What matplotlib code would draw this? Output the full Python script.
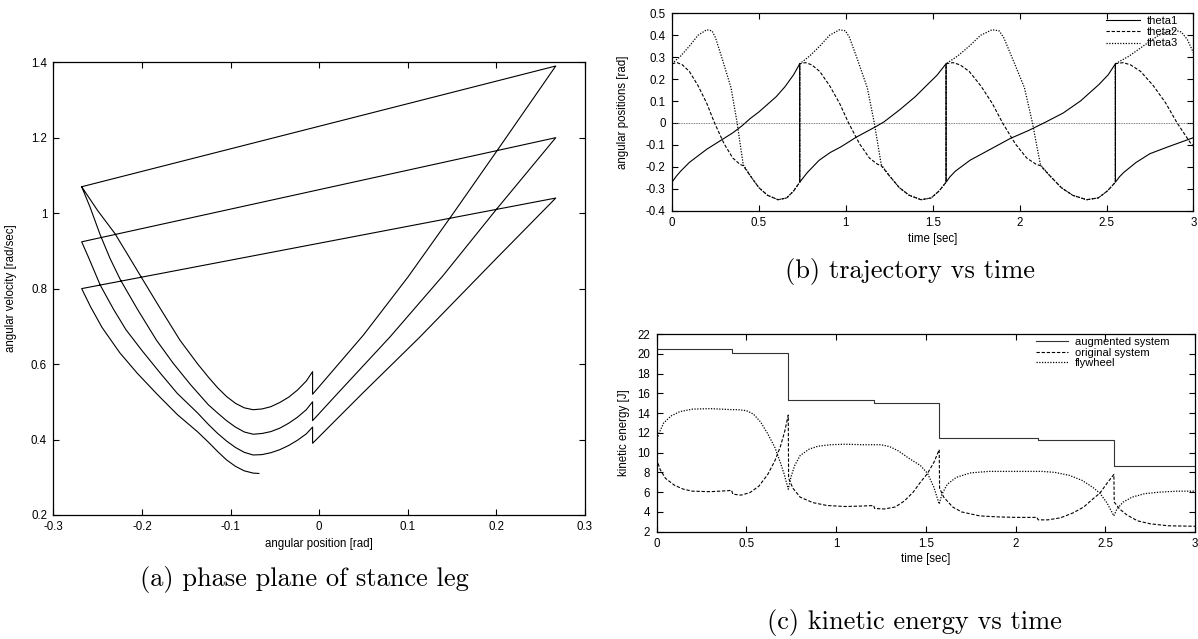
import numpy as np
import matplotlib
matplotlib.use("Agg")
import matplotlib.pyplot as plt

# ---------------- datos ----------------
# (a) plano de fase de la pierna de apoyo: posicion angular vs velocidad angular
phase_theta = [
    # ciclo 1
    -0.268, -0.250, -0.2305, -0.215, -0.2004, -0.180, -0.157, -0.137, -0.1245, -0.1145, -0.1045, -0.0945, -0.0845,
    -0.0745, -0.0645, -0.0545, -0.0445, -0.0345, -0.0245, -0.0145, -0.0074, -0.0074, 0.02, 0.05, 0.10, 0.15, 0.20, 0.267,
    # ciclo 2
    -0.268, -0.2587, -0.247, -0.236, -0.224, -0.205, -0.1835, -0.165, -0.145, -0.125, -0.1145, -0.1045, -0.0945,
    -0.0845, -0.0745, -0.0645, -0.0545, -0.0445, -0.0345, -0.0245, -0.0145, -0.0074, -0.0074, 0.02, 0.08, 0.14, 0.20, 0.267,
    # ciclo 3
    -0.268, -0.2605, -0.247, -0.232, -0.218, -0.200, -0.180, -0.160, -0.137, -0.125, -0.1145, -0.1045, -0.0945,
    -0.0845, -0.0745, -0.0645, -0.0545, -0.0445, -0.0345, -0.0245, -0.0145, -0.0074, -0.0074, 0.05, 0.1134, 0.20, 0.267,
    # ciclo 4 (incompleto)
    -0.268, -0.258, -0.245, -0.225, -0.205, -0.182, -0.160, -0.137, -0.125, -0.1145, -0.1045, -0.0945, -0.0845,
    -0.0745, -0.068,
]
phase_omega = [
    1.070, 1.007, 0.946, 0.886, 0.829, 0.750, 0.663, 0.600, 0.564, 0.537, 0.514, 0.496, 0.484,
    0.479, 0.481, 0.487, 0.498, 0.512, 0.531, 0.555, 0.580, 0.520, 0.595, 0.677, 0.830, 0.995, 1.163, 1.390,
    1.070, 1.017, 0.942, 0.880, 0.822, 0.745, 0.663, 0.603, 0.545, 0.492, 0.470, 0.450, 0.433,
    0.420, 0.414, 0.416, 0.421, 0.430, 0.443, 0.459, 0.479, 0.500, 0.450, 0.520, 0.672, 0.835, 1.010, 1.200,
    0.924, 0.884, 0.809, 0.745, 0.691, 0.636, 0.578, 0.522, 0.470, 0.440, 0.416, 0.396, 0.379,
    0.366, 0.359, 0.360, 0.365, 0.373, 0.384, 0.398, 0.415, 0.433, 0.390, 0.525, 0.671, 0.880, 1.040,
    0.800, 0.752, 0.697, 0.630, 0.575, 0.518, 0.466, 0.420, 0.393, 0.368, 0.346, 0.329, 0.317,
    0.311, 0.310,
]

# (b) trayectorias en el tiempo
theta1_t = [0, 0.025, 0.05, 0.10, 0.15, 0.20, 0.25, 0.30, 0.35, 0.40, 0.45, 0.50, 0.55, 0.60, 0.65, 0.70, 0.735,
            0.735, 0.76, 0.78, 0.847, 0.91, 0.974, 1.06, 1.17, 1.22, 1.31, 1.40, 1.47, 1.524, 1.577,
            1.577, 1.60, 1.63, 1.715, 1.82, 1.948, 2.05, 2.14, 2.25, 2.35, 2.456, 2.51, 2.551,
            2.551, 2.575, 2.60, 2.67, 2.75, 2.85, 2.93, 3.0]
theta1 = [-0.27, -0.243, -0.22, -0.18, -0.15, -0.12, -0.095, -0.07, -0.045, -0.015, 0.02, 0.05, 0.085, 0.12, 0.165, 0.22, 0.27,
          -0.27, -0.245, -0.225, -0.17, -0.135, -0.108, -0.065, -0.018, 0.005, 0.06, 0.12, 0.175, 0.217, 0.27,
          -0.27, -0.245, -0.22, -0.17, -0.125, -0.07, -0.035, 0.0, 0.045, 0.10, 0.175, 0.22, 0.27,
          -0.27, -0.245, -0.225, -0.18, -0.14, -0.11, -0.087, -0.067]

theta2_t = [0, 0.03, 0.06, 0.10, 0.15, 0.20, 0.245, 0.30, 0.35, 0.39, 0.41, 0.45, 0.50, 0.55, 0.61, 0.66, 0.70, 0.735,
            0.735, 0.769, 0.804, 0.85, 0.907, 0.964, 1.016, 1.079, 1.136, 1.182, 1.204, 1.25, 1.308, 1.365, 1.433, 1.491, 1.537, 1.577,
            1.577, 1.617, 1.657, 1.71, 1.776, 1.842, 1.902, 1.975, 2.041, 2.094, 2.12, 2.173, 2.24, 2.306, 2.385, 2.452, 2.505, 2.551,
            2.551, 2.595, 2.638, 2.696, 2.769, 2.841, 2.906, 2.986, 3.0]
theta2 = [0.27, 0.275, 0.265, 0.235, 0.17, 0.09, 0.0, -0.095, -0.16, -0.188, -0.195, -0.24, -0.295, -0.33, -0.35, -0.342, -0.31, -0.27,
          0.27, 0.275, 0.265, 0.235, 0.17, 0.09, 0.0, -0.095, -0.16, -0.188, -0.195, -0.24, -0.295, -0.33, -0.35, -0.342, -0.31, -0.27,
          0.27, 0.275, 0.265, 0.235, 0.17, 0.09, 0.0, -0.095, -0.16, -0.188, -0.195, -0.24, -0.295, -0.33, -0.35, -0.342, -0.31, -0.27,
          0.27, 0.275, 0.265, 0.235, 0.17, 0.09, 0.0, -0.095, -0.105]

theta3_t = [0, 0.05, 0.10, 0.15, 0.20, 0.23, 0.25, 0.29, 0.34, 0.375, 0.395, 0.41, 0.45, 0.50, 0.55, 0.61, 0.66, 0.70, 0.735,
            0.735, 0.792, 0.85, 0.907, 0.964, 0.998, 1.021, 1.067, 1.124, 1.164, 1.187, 1.204, 1.25, 1.308, 1.365, 1.433, 1.491, 1.537, 1.577,
            1.577, 1.643, 1.71, 1.776, 1.842, 1.882, 1.908, 1.961, 2.028, 2.074, 2.10, 2.12, 2.173, 2.24, 2.306, 2.385, 2.452, 2.505, 2.551,
            2.551, 2.63, 2.71, 2.80, 2.88, 2.93, 2.965, 3.0]
theta3 = [0.27, 0.305, 0.35, 0.40, 0.425, 0.42, 0.39, 0.29, 0.16, 0.0, -0.11, -0.19, -0.24, -0.295, -0.33, -0.35, -0.342, -0.31, -0.27,
          0.27, 0.305, 0.35, 0.40, 0.425, 0.42, 0.39, 0.29, 0.16, 0.0, -0.11, -0.19, -0.24, -0.295, -0.33, -0.35, -0.342, -0.31, -0.27,
          0.27, 0.305, 0.35, 0.40, 0.425, 0.42, 0.39, 0.29, 0.16, 0.0, -0.11, -0.19, -0.24, -0.295, -0.33, -0.35, -0.342, -0.31, -0.27,
          0.27, 0.305, 0.35, 0.40, 0.425, 0.415, 0.38, 0.32]

# (c) energia cinetica en el tiempo
aug_t = [0, 0.418, 0.418, 0.734, 0.734, 1.212, 1.212, 1.575, 1.575, 2.126, 2.126, 2.548, 2.548, 3.0]
aug_e = [20.45, 20.45, 20.1, 20.1, 15.3, 15.3, 15.05, 15.05, 11.5, 11.5, 11.3, 11.3, 8.65, 8.65]

orig_t = [0, 0.02, 0.05, 0.10, 0.15, 0.20, 0.30, 0.40, 0.418, 0.425, 0.47, 0.52, 0.57, 0.62, 0.66, 0.69, 0.715, 0.734,
          0.736, 0.76, 0.80, 0.87, 0.95, 1.05, 1.15, 1.21, 1.215, 1.27, 1.33, 1.38, 1.43, 1.47, 1.51, 1.545, 1.575,
          1.577, 1.60, 1.65, 1.70, 1.80, 1.90, 2.00, 2.12, 2.126, 2.18, 2.25, 2.32, 2.38, 2.43, 2.47, 2.51, 2.548,
          2.55, 2.58, 2.62, 2.68, 2.75, 2.85, 3.0]
orig_e = [9.4, 8.3, 7.4, 6.7, 6.3, 6.1, 6.05, 6.15, 6.2, 5.8, 5.7, 5.95, 6.6, 7.8, 9.2, 10.6, 12.2, 13.8,
          7.4, 6.4, 5.5, 4.95, 4.65, 4.55, 4.6, 4.65, 4.35, 4.3, 4.5, 5.1, 6.0, 7.0, 7.9, 9.0, 10.3,
          6.4, 5.5, 4.5, 4.0, 3.6, 3.5, 3.45, 3.45, 3.2, 3.2, 3.4, 3.9, 4.5, 5.3, 5.9, 6.9, 7.8,
          5.0, 4.3, 3.7, 3.1, 2.8, 2.6, 2.55]

fly_t = [0, 0.015, 0.04, 0.08, 0.13, 0.20, 0.30, 0.418, 0.45, 0.50, 0.54, 0.58, 0.62, 0.66, 0.69, 0.71, 0.734,
         0.75, 0.77, 0.80, 0.85, 0.90, 0.97, 1.05, 1.15, 1.25, 1.30, 1.35, 1.40, 1.47, 1.51, 1.545, 1.575,
         1.59, 1.62, 1.67, 1.75, 1.85, 2.00, 2.15, 2.22, 2.30, 2.37, 2.43, 2.47, 2.51, 2.548,
         2.565, 2.60, 2.65, 2.72, 2.80, 2.90, 3.0]
fly_e = [11.1, 12.0, 13.0, 13.7, 14.15, 14.4, 14.45, 14.35, 14.35, 14.25, 13.9, 13.1, 11.9, 10.5, 9.0, 7.9, 6.3,
         7.6, 8.7, 9.7, 10.35, 10.65, 10.8, 10.85, 10.8, 10.8, 10.6, 10.15, 9.5, 8.7, 7.9, 6.5, 4.8,
         5.8, 6.8, 7.5, 7.95, 8.1, 8.1, 8.1, 8.0, 7.7, 7.2, 6.5, 5.9, 4.9, 3.6,
         4.3, 5.0, 5.5, 5.85, 6.0, 6.1, 6.1]

# ticks de cada eje
ticks_a_x = [-0.3, -0.2, -0.1, 0, 0.1, 0.2, 0.3]
ticks_a_y = [0.2, 0.4, 0.6, 0.8, 1, 1.2, 1.4]
ticks_t = [0, 0.5, 1, 1.5, 2, 2.5, 3]
ticks_b_y = [-0.4, -0.3, -0.2, -0.1, 0, 0.1, 0.2, 0.3, 0.4, 0.5]
ticks_c_y = [2, 4, 6, 8, 10, 12, 14, 16, 18, 20, 22]

# ---------------- estilo ----------------
plt.rcParams['font.family'] = ['Liberation Sans', 'DejaVu Sans']
plt.rcParams['font.size'] = 8.3
plt.rcParams['axes.unicode_minus'] = False
plt.rcParams['axes.linewidth'] = 0.9

DOT = (0, (1, 1.2))
DASH = (0, (3, 1.6))
LW = 0.8


def estilo_gnuplot(ax, xt, yt):
    # ticks hacia adentro en los cuatro lados, como gnuplot
    ax.set_xticks(xt)
    ax.set_yticks(yt)
    ax.set_xticklabels(['%g' % v for v in xt])
    ax.set_yticklabels(['%g' % v for v in yt])
    ax.tick_params(direction='in', top=True, right=True, length=4, width=0.8, pad=4.5)


fig = plt.figure(figsize=(11.98, 6.39), dpi=100)

# (a)
ax_a = fig.add_axes([0.0445, 0.1941, 0.4438, 0.7085])
ax_a.plot(phase_theta, phase_omega, color='black', lw=LW)
ax_a.set_xlim(-0.3, 0.3)
ax_a.set_ylim(0.2, 1.4)
estilo_gnuplot(ax_a, ticks_a_x, ticks_a_y)
ax_a.set_xlabel('angular position [rad]')
ax_a.set_ylabel('angular velocity [rad/sec]')
ax_a.xaxis.set_label_coords(0.5, -0.051)
ax_a.yaxis.set_label_coords(-0.068, 0.5)

# (b)
ax_b = fig.add_axes([0.5609, 0.6703, 0.4353, 0.3089])
ax_b.axhline(0, color='#555555', lw=0.6, linestyle=(0, (1, 1)))
ax_b.plot(theta1_t, theta1, color='black', lw=LW, label='theta1')
ax_b.plot(theta2_t, theta2, color='black', lw=LW, linestyle=DASH, label='theta2')
ax_b.plot(theta3_t, theta3, color='black', lw=0.9, linestyle=DOT, label='theta3')
ax_b.set_xlim(0, 3)
ax_b.set_ylim(-0.4, 0.5)
estilo_gnuplot(ax_b, ticks_t, ticks_b_y)
ax_b.set_xlabel('time [sec]')
ax_b.set_ylabel('angular positions [rad]')
ax_b.xaxis.set_label_coords(0.5, -0.115)
ax_b.yaxis.set_label_coords(-0.0825, 0.5)
ax_b.legend(loc='upper left', bbox_to_anchor=(0.833, 0.985), frameon=False, fontsize=8,
            handlelength=3.0, handletextpad=0.6, labelspacing=0.1, borderpad=0, borderaxespad=0)

# (c)
ax_c = fig.add_axes([0.548, 0.1679, 0.4495, 0.3094])
ax_c.plot(aug_t, aug_e, color='#333333', lw=LW, label='augmented system')
ax_c.plot(orig_t, orig_e, color='black', lw=LW, linestyle=DASH, label='original system')
ax_c.plot(fly_t, fly_e, color='black', lw=0.9, linestyle=DOT, label='flywheel')
ax_c.set_xlim(0, 3)
ax_c.set_ylim(2, 22)
estilo_gnuplot(ax_c, ticks_t, ticks_c_y)
ax_c.set_xlabel('time [sec]')
ax_c.set_ylabel('kinetic energy [J]')
ax_c.xaxis.set_label_coords(0.5, -0.110)
ax_c.yaxis.set_label_coords(-0.049, 0.5)
ax_c.legend(loc='upper left', bbox_to_anchor=(0.705, 0.985), frameon=False, fontsize=8,
            handlelength=2.9, handletextpad=0.6, labelspacing=0.05, borderpad=0, borderaxespad=0)

# leyendas de las subfiguras
fig.text(0.2538, 1 - 586 / 639, '(a) phase plane of stance leg', family='cmr10', fontsize=19,
         ha='center', va='baseline')
fig.text(0.7598, 1 - 278 / 639, '(b) trajectory vs time', family='cmr10', fontsize=19,
         ha='center', va='baseline')
fig.text(0.763, 1 - 629 / 639, '(c) kinetic energy vs time', family='cmr10', fontsize=19,
         ha='center', va='baseline')

fig.savefig('out.png', dpi=100)
